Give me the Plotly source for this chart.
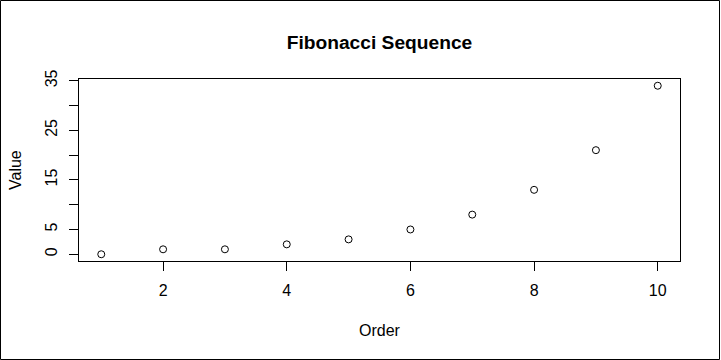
import plotly.graph_objects as go

order = [1, 2, 3, 4, 5, 6, 7, 8, 9, 10]
value = [0, 1, 1, 2, 3, 5, 8, 13, 21, 34]
x_ticks = [2, 4, 6, 8, 10]
y_ticks = [0, 5, 10, 15, 20, 25, 30, 35]
y_ticktext = ["0", "5", "", "15", "", "25", "", "35"]

W, H = 721, 360
L, R, T, B = 79, 41, 79, 99
pw, ph = W - L - R, H - T - B

fig = go.Figure(go.Scatter(
    x=order, y=value, mode="markers",
    marker=dict(symbol="circle-open", size=7, color="black", line=dict(width=1, color="black")),
))

font = "Liberation Sans, Arial, sans-serif"
fig.update_layout(
    width=W, height=H,
    margin=dict(l=L, r=R, t=T, b=B),
    paper_bgcolor="white", plot_bgcolor="white",
    showlegend=False,
    font=dict(family=font, color="black", size=16),
    title=dict(text="<b>Fibonacci Sequence</b>", x=(L + pw / 2) / W, xanchor="center",
               y=1 - 42 / H, yanchor="middle", font=dict(size=19.2, family=font, color="black")),
    xaxis=dict(range=[0.64, 10.36], tickvals=x_ticks, ticks="outside", ticklen=9, tickwidth=1,
               tickcolor="black", showgrid=False, zeroline=False, showline=True, mirror=True,
               linecolor="black", linewidth=1, ticklabelstandoff=6, tickfont=dict(size=16)),
    yaxis=dict(range=[-1.36, 35.36], tickvals=y_ticks, ticktext=y_ticktext, ticks="outside",
               ticklen=9, tickwidth=1, tickcolor="black", showgrid=False, zeroline=False,
               showline=True, mirror=True, linecolor="black", linewidth=1, tickangle=-90,
               ticklabelstandoff=6, tickfont=dict(size=16)),
    annotations=[
        dict(text="Order", xref="paper", yref="paper", x=0.5, y=(H - B - 330) / ph,
             xanchor="center", yanchor="middle", showarrow=False, font=dict(size=16)),
        dict(text="Value", xref="paper", yref="paper", x=(15 - L) / pw, y=0.5, textangle=-90,
             xanchor="center", yanchor="middle", showarrow=False, font=dict(size=16)),
    ],
    shapes=[dict(type="rect", xref="paper", yref="paper",
                 x0=(0.5 - L) / pw, x1=(W - 1.5 - L) / pw,
                 y0=(H - B - (H - 0.5)) / ph, y1=(H - B - 0.5) / ph,
                 line=dict(color="black", width=1), fillcolor="rgba(0,0,0,0)", layer="above")],
)

fig.write_html("out.html", config={"displayModeBar": False},
               post_script="document.body.style.margin='0';")
